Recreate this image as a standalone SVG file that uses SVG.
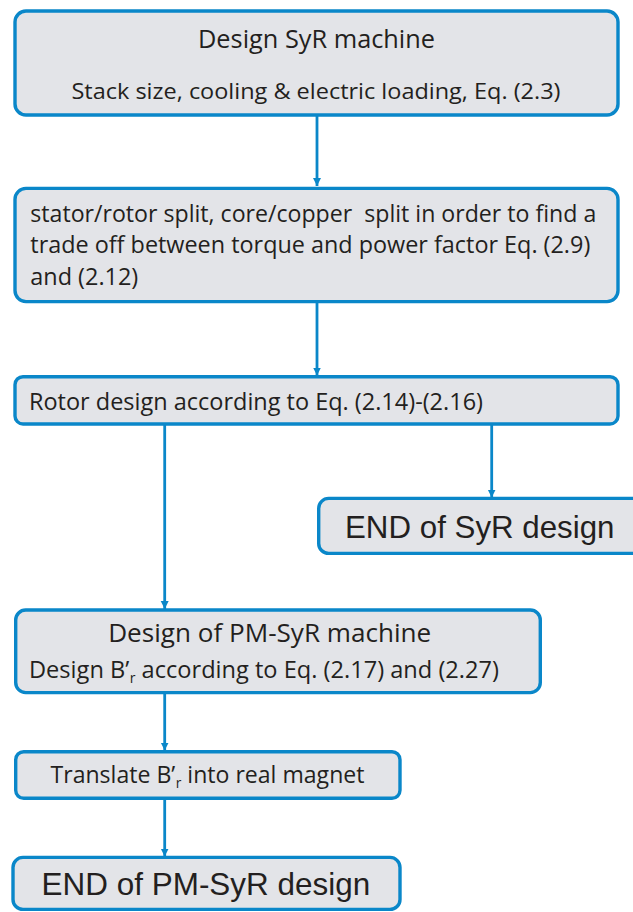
<svg xmlns="http://www.w3.org/2000/svg" width="633" height="912" viewBox="0 0 633 912">
<style>
.box{fill:#e3e4e8;stroke:#0a87c9;stroke-width:3.4}
.c{font-family:"Open Sans","Noto Sans","DejaVu Sans",sans-serif;fill:#231f20}
.a{font-family:"Liberation Sans",Arial,sans-serif;fill:#231f20}
.con{stroke:#0a87c9;stroke-width:2.8;fill:none;marker-end:url(#ah)}
</style>
<defs>
<marker id="ah" viewBox="0 0 10 10" refX="10" refY="5" markerWidth="8" markerHeight="10" markerUnits="userSpaceOnUse" orient="auto">
<path d="M0,0 L10,5 L0,10 z" fill="#0a87c9"/>
</marker>
</defs>
<rect width="633" height="912" fill="#ffffff"/>
<g id="connectors">
<line class="con" x1="317" y1="116" x2="317" y2="186"/>
<line class="con" x1="317" y1="303" x2="317" y2="375.5"/>
<line class="con" x1="491.7" y1="425" x2="491.7" y2="497.5"/>
<line class="con" x1="164.7" y1="425" x2="164.7" y2="609"/>
<line class="con" x1="164.7" y1="694" x2="164.7" y2="750.5"/>
<line class="con" x1="164.7" y1="800" x2="164.7" y2="856.5"/>
</g>
<g id="n1">
<rect class="box" x="15" y="11" width="603" height="104" rx="11"/>
<text class="c" x="316.5" y="48.3" font-size="26" text-anchor="middle" textLength="237" lengthAdjust="spacingAndGlyphs">Design SyR machine</text>
<text class="c" x="316" y="99.3" font-size="21.6" text-anchor="middle" textLength="489" lengthAdjust="spacingAndGlyphs">Stack size, cooling &amp; electric loading, Eq. (2.3)</text>
</g>
<g id="n2">
<rect class="box" x="15" y="188.4" width="603" height="113.2" rx="11"/>
<text class="c" x="30.3" y="221.7" font-size="23.5" textLength="566" lengthAdjust="spacingAndGlyphs" xml:space="preserve">stator/rotor split, core/copper  split in order to find a</text>
<text class="c" x="30.3" y="253.3" font-size="23.5" textLength="560" lengthAdjust="spacingAndGlyphs">trade off between torque and power factor Eq. (2.9)</text>
<text class="c" x="30.3" y="285" font-size="23.5" textLength="108" lengthAdjust="spacingAndGlyphs">and (2.12)</text>
</g>
<g id="n3">
<rect class="box" x="15" y="376.7" width="603" height="47.3" rx="8"/>
<text class="c" x="29" y="410" font-size="23.5" textLength="454" lengthAdjust="spacingAndGlyphs">Rotor design according to Eq. (2.14)-(2.16)</text>
</g>
<g id="n4">
<rect class="box" x="318.7" y="498.4" width="340" height="55" rx="10"/>
<text class="a" x="345" y="537.7" font-size="31.5" textLength="269.5" lengthAdjust="spacingAndGlyphs">END of SyR design</text>
</g>
<g id="n5">
<rect class="box" x="15.7" y="610" width="524.6" height="82.6" rx="10"/>
<text class="c" x="269.7" y="641.7" font-size="26" text-anchor="middle" textLength="323" lengthAdjust="spacingAndGlyphs">Design of PM-SyR machine</text>
<text class="c" x="29" y="678.3" font-size="23.5" textLength="470" lengthAdjust="spacingAndGlyphs">Design B’<tspan font-size="14" dx="0.5" dy="5">r</tspan><tspan dy="-5"> according to Eq. (2.17) and (2.27)</tspan></text>
</g>
<g id="n6">
<rect class="box" x="15.7" y="751.7" width="384.3" height="46.6" rx="8"/>
<text class="c" x="50.5" y="783.3" font-size="23.5" textLength="314" lengthAdjust="spacingAndGlyphs">Translate B’<tspan font-size="14" dx="0.5" dy="5">r</tspan><tspan dy="-5"> into real magnet</tspan></text>
</g>
<g id="n7">
<rect class="box" x="13" y="857.4" width="387" height="52" rx="10"/>
<text class="a" x="41.6" y="895" font-size="31.5" textLength="328.6" lengthAdjust="spacingAndGlyphs">END of PM-SyR design</text>
</g>
</svg>
